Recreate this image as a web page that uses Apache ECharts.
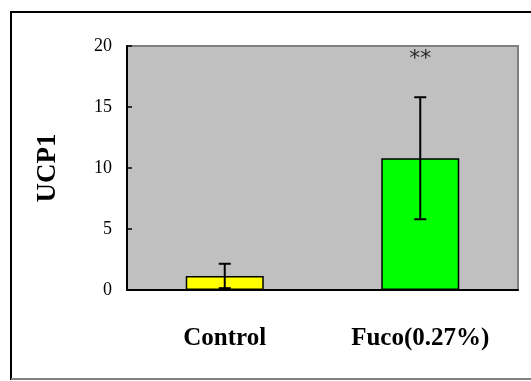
<!DOCTYPE html>
<html>
<head>
<meta charset="utf-8">
<script src="https://cdn.jsdelivr.net/npm/echarts@6/dist/echarts.min.js"></script>
<style>
  html, body { margin: 0; padding: 0; background: #fff; }
  #chart { width: 531px; height: 381px; }
</style>
</head>
<body>
<div id="chart"></div>
<script>
var groups = ['Control', 'Fuco(0.27%)'];
var means = [1.15, 10.8];
var errors = [1.0, 5.0];
var barColors = ['#ffff00', '#00ff00'];
var yTicks = [0, 5, 10, 15, 20];
var signif = ['', '**'];

var myChart = echarts.init(document.getElementById('chart'));

var errData = groups.map(function (g, i) {
    return [i, means[i] - errors[i], means[i] + errors[i]];
});

var option = {
    animation: false,
    graphic: [
        { type: 'polyline', shape: { points: [[11, 380], [11, 12], [531, 12]] },
          style: { stroke: '#000', lineWidth: 2, fill: null } },
        { type: 'line', shape: { x1: 11, y1: 379, x2: 531, y2: 379 },
          style: { stroke: '#808080', lineWidth: 2 } }
    ],
    grid: {
        left: 127, right: 13, top: 46, bottom: 91,
        show: true,
        backgroundColor: '#c0c0c0',
        borderColor: '#808080',
        borderWidth: 2
    },
    xAxis: {
        type: 'category',
        data: groups,
        axisLine: { lineStyle: { color: '#000', width: 2 } },
        axisTick: { inside: true, length: 6, lineStyle: { color: '#000', width: 1.5 } },
        axisLabel: {
            margin: 36,
            color: '#000',
            fontFamily: 'Liberation Serif',
            fontWeight: 'bold',
            fontSize: 25
        }
    },
    yAxis: {
        type: 'value',
        min: 0, max: 20, interval: 5,
        name: 'UCP1',
        nameLocation: 'middle',
        nameGap: 65,
        nameRotate: 90,
        nameTextStyle: {
            color: '#000',
            fontFamily: 'Liberation Serif',
            fontWeight: 'bold',
            fontSize: 27
        },
        axisLine: { show: true, lineStyle: { color: '#000', width: 2 } },
        axisTick: { show: true, inside: true, length: 5, lineStyle: { color: '#000', width: 1.5 } },
        splitLine: { show: false },
        axisLabel: {
            margin: 15,
            color: '#000',
            fontFamily: 'Liberation Serif',
            fontSize: 18,
            formatter: function (v) { return yTicks.indexOf(v) >= 0 ? v : ''; }
        }
    },
    series: [
        {
            type: 'bar',
            barWidth: 78,
            data: means.map(function (m, i) {
                return { value: m, itemStyle: { color: barColors[i] } };
            }),
            itemStyle: { borderColor: '#000', borderWidth: 1.5 },
            z: 2
        },
        {
            type: 'custom',
            z: 3,
            renderItem: function (params, api) {
                var x = api.value(0);
                var lo = api.coord([x, api.value(1)]);
                var hi = api.coord([x, api.value(2)]);
                var cap = 6;
                var st = { stroke: '#000', lineWidth: 2 };
                return {
                    type: 'group',
                    children: [
                        { type: 'line', shape: { x1: lo[0], y1: lo[1], x2: hi[0], y2: hi[1] }, style: st },
                        { type: 'line', shape: { x1: hi[0] - cap, y1: hi[1], x2: hi[0] + cap, y2: hi[1] }, style: st },
                        { type: 'line', shape: { x1: lo[0] - cap, y1: lo[1], x2: lo[0] + cap, y2: lo[1] }, style: st }
                    ]
                };
            },
            encode: { x: 0, y: [1, 2] },
            data: errData
        },
        {
            type: 'scatter',
            symbolSize: 0,
            z: 4,
            data: [[1, 18.9]],
            label: {
                show: true,
                position: 'inside',
                formatter: function (p) { return signif[p.data[0]]; },
                color: '#000',
                fontFamily: 'DejaVu Sans',
                fontSize: 22
            }
        }
    ]
};

myChart.setOption(option);
</script>
</body>
</html>
